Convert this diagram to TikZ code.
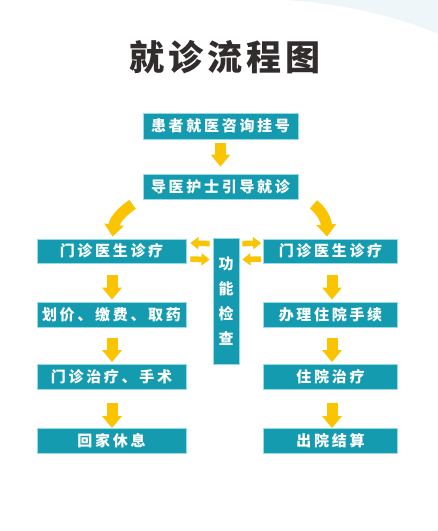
\documentclass[tikz,border=0pt]{standalone}
\usepackage{fontspec}
\usetikzlibrary{arrows.meta,calc}
\newfontfamily\cjk{Noto Sans CJK SC}
\definecolor{teal1}{RGB}{20,155,176}
\definecolor{edge1}{RGB}{150,220,232}
\definecolor{gold1}{RGB}{250,196,0}
\definecolor{wash1}{RGB}{238,246,250}
\definecolor{title1}{RGB}{50,45,45}
\tikzset{
  box/.style={fill=teal1, draw=edge1, line width=0.8pt, minimum height=25pt, inner sep=0pt,
    text=white, font=\cjk\bfseries\fontsize{15}{15}\selectfont\addfontfeature{LetterSpace=18}},
  fat/.style={draw=gold1, line width=11pt, -{Triangle[width=19pt,length=12pt]}},
  small/.style={draw=gold1, line width=5.5pt, -{Triangle[width=12pt,length=8pt]}}
}
\begin{document}
\begin{tikzpicture}[x=1pt,y=-1pt]
\useasboundingbox (0,0) rectangle (438,531);
\fill[white] (0,0) rectangle (438,531);
\fill[wash1] (285,0) .. controls (350,4) and (400,18) .. (438,34) -- (438,0) -- cycle;
\node[font=\cjk\bfseries\fontsize{35}{35}\selectfont\addfontfeature{LetterSpace=12}, text=title1] (title) at (225,57) {就诊流程图};
\node[box, minimum width=155pt, minimum height=26pt] (b1) at (220.5,126) {患者就医咨询挂号};
\node[box, minimum width=155pt] (b2) at (220.5,186.5) {导医护士引导就诊};
\node[box, minimum width=149pt, minimum height=24pt] (l1) at (111.5,251) {门诊医生诊疗};
\node[box, minimum width=134pt, minimum height=24pt] (r1) at (330.5,251) {门诊医生诊疗};
\node[box, minimum width=26pt, minimum height=126pt, align=center,
  font=\cjk\bfseries\fontsize{15}{25}\selectfont] (c) at (226,301) {功\\能\\检\\查};
\node[box, minimum width=149pt] (l2) at (111.5,314.5) {划价、缴费、取药};
\node[box, minimum width=149pt] (l3) at (111.5,377) {门诊治疗、手术};
\node[box, minimum width=149pt] (l4) at (111.5,441) {回家休息};
\node[box, minimum width=134pt] (r2) at (330.5,314.5) {办理住院手续};
\node[box, minimum width=134pt] (r3) at (330.5,377) {住院治疗};
\node[box, minimum width=134pt] (r4) at (330.5,441) {出院结算};
% vertical arrows
\draw[fat] ($(b1.south)+(0,4)$) -- ($(b2.north)+(0,-7)$);
\draw[fat] ($(l1.south)+(0.5,12)$) -- ($(l2.north)+(0.5,-2)$);
\draw[fat] ($(l2.south)+(0.5,11)$) -- ($(l3.north)+(0.5,-2)$);
\draw[fat] ($(l3.south)+(0.5,13)$) -- ($(l4.north)+(0.5,0)$);
\draw[fat] ($(r1.south)+(1.5,12)$) -- ($(r2.north)+(1.5,-2)$);
\draw[fat] ($(r2.south)+(1.5,11)$) -- ($(r3.north)+(1.5,-2)$);
\draw[fat] ($(r3.south)+(1.5,13)$) -- ($(r4.north)+(1.5,0)$);
% curved arrows
\coordinate (ls) at ($(b2.south west)+(-10,5)$);
\coordinate (le) at ($(l1.north west)+(76,-2)$);
\coordinate (rs) at ($(b2.south east)+(15,5)$);
\coordinate (re) at ($(r1.north west)+(64,-2)$);
\draw[fat] (ls) .. controls ($(ls)+(-12,8)$) and ($(le)+(2,-16)$) .. (le);
\draw[fat] (rs) .. controls ($(rs)+(9,7)$) and ($(re)+(-1,-16)$) .. (re);
% small arrows
\draw[small] ($(c.north west)+(-3,6)$) -- ($(l1.east)+(4,-8)$);
\draw[small] ($(l1.east)+(4,8)$) -- ($(c.north west)+(-3,22)$);
\draw[small] ($(c.north east)+(3,6)$) -- ($(r1.west)+(-2,-8)$);
\draw[small] ($(r1.west)+(-2,8)$) -- ($(c.north east)+(3,22)$);
\end{tikzpicture}
\end{document}
